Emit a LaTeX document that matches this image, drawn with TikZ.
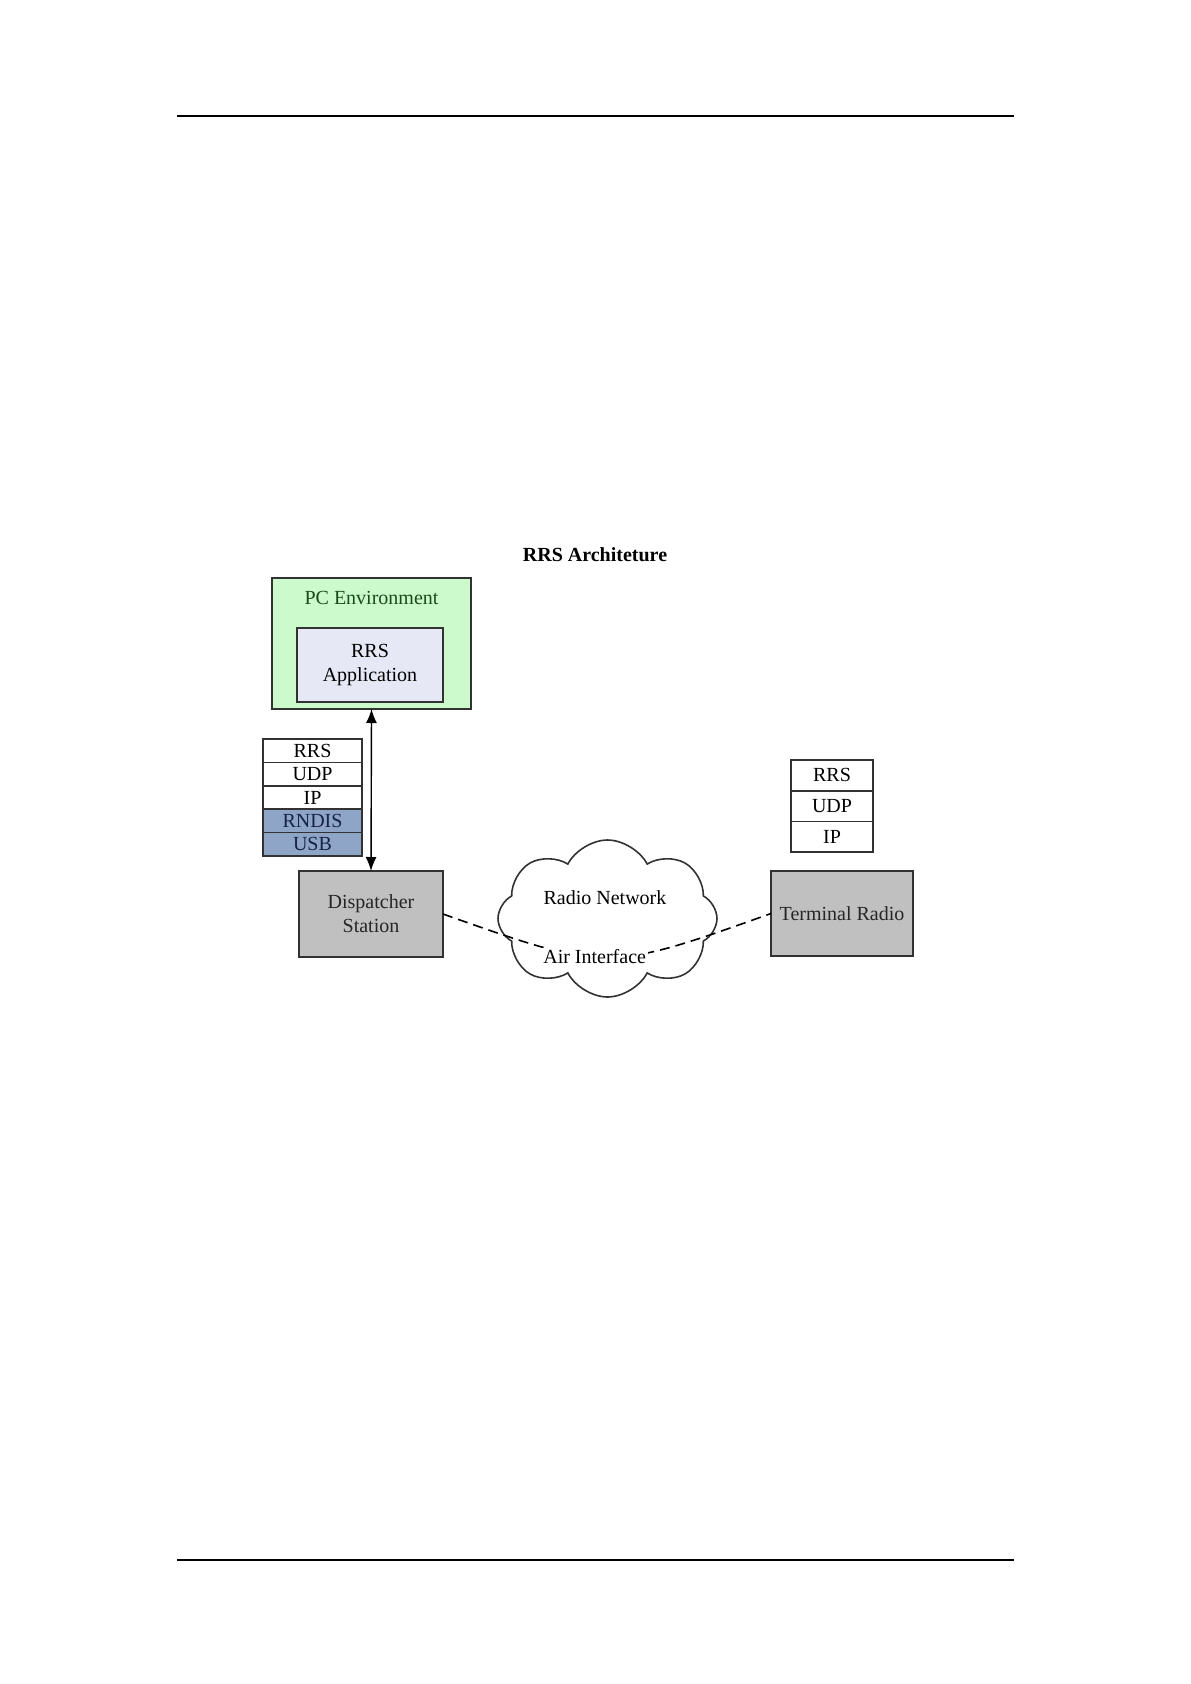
\documentclass[tikz,border=0pt]{standalone}
\usepackage{fontspec}
\setmainfont{Liberation Serif}
\usetikzlibrary{arrows.meta,shapes.symbols}

\definecolor{pcgreen}{RGB}{204,250,204}
\definecolor{pctext}{RGB}{25,75,25}
\definecolor{appfill}{RGB}{230,233,245}
\definecolor{boxgray}{RGB}{192,192,192}
\definecolor{rowblue}{RGB}{143,165,200}
\definecolor{rowtext}{RGB}{20,35,70}
\definecolor{edge}{RGB}{50,50,50}

\begin{document}
\begin{tikzpicture}[x=0.5pt, y=-0.5pt]
\tikzset{ >={Latex[length=7pt,width=5.5pt]}, inner sep=0pt, outer sep=0pt,
  font=\fontsize{10}{12}\selectfont,
  box/.style={draw=edge, line width=0.8pt},
  rowA/.style={box, fill=white, minimum width=49.5pt, minimum height=11.7pt},
  rowB/.style={box, fill=rowblue, text=rowtext, minimum width=49.5pt, minimum height=11.7pt},
  rowT/.style={box, fill=white, minimum width=41pt, minimum height=15.35pt},
  unit/.style={box, fill=boxgray, text=black!85, align=center},
}

\useasboundingbox (0,0) rectangle (1190,1684);

%\draw [lightgray, dashed](0,0) grid (1190,1684);

% page rules
\draw [line width=1pt] (177,116) -- (1014,116);
\draw [line width=1pt] (177,1560) -- (1014,1560);

\node [font=\fontsize{10}{12}\selectfont\bfseries] (TITLE) at (595,555) {RRS Architeture};

% PC side
\node [box, fill=pcgreen, minimum width=99.5pt, minimum height=65.5pt] (PC) at (371.5,643.5) {};
\node [text=pctext] (PCT) at (371.5,598) {PC Environment};
\node [box, fill=appfill, align=center, minimum width=73pt, minimum height=37pt] (APP) at (370,665) {RRS\\Application};

\node [unit, minimum width=72pt, minimum height=43pt] (DS) at (371,914) {Dispatcher\\Station};
\node [unit, minimum width=71pt, minimum height=42.5pt] (TR) at (842,913.5) {Terminal Radio};

% protocol stacks
\node [rowA] (S1) at (312.5,750.7) {RRS};
\node [rowA] (S2) at (312.5,774.1) {UDP};
\node [rowA] (S3) at (312.5,797.5) {IP};
\node [rowB] (S4) at (312.5,820.9) {RNDIS};
\node [rowB] (S5) at (312.5,844.3) {USB};

\node [rowT] (T1) at (832,775.35) {RRS};
\node [rowT] (T2) at (832,806.05) {UDP};
\node [rowT] (T3) at (832,836.75) {IP};

% radio network
\node [cloud, cloud puffs=8, cloud puff arc=125, draw=edge, line width=0.8pt,
       minimum width=109.5pt, minimum height=78.5pt] (NET) at (607.5,918.5) {};
\node (NETT) at (605,898) {Radio Network};

\draw [<->, line width=0.7pt] (PC.south) -- (DS.north);
\draw [dash pattern=on 5pt off 3pt, line width=0.8pt] (DS.east) .. controls (607,972) .. (TR.west)
      node [pos=0.45, fill=white, inner sep=1pt] (AIR) {Air Interface};
\end{tikzpicture}
\end{document}
